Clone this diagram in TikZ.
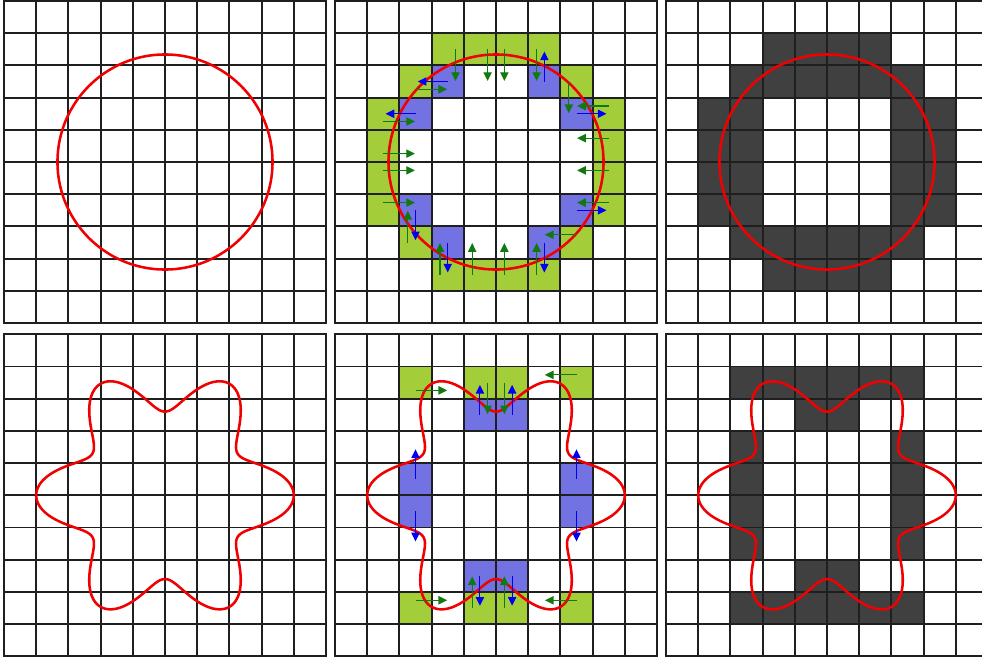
\documentclass[tikz,border=0pt]{standalone}
\usetikzlibrary{arrows.meta}
\definecolor{gcell}{RGB}{164,206,57}
\definecolor{bcell}{RGB}{114,114,226}
\definecolor{dcell}{RGB}{64,64,64}
\definecolor{garr}{RGB}{16,122,16}
\definecolor{barr}{RGB}{0,0,245}
\definecolor{curvered}{RGB}{240,0,0}
\tikzset{
  gridline/.style={draw=black!88, line width=1pt, line cap=rect},
  redcurve/.style={draw=curvered, line width=1.35pt, line join=round},
  garrow/.style={draw=garr, line width=0.6pt, -{Triangle[width=4.4pt,length=4.6pt]}, shorten >=0.3pt},
  barrow/.style={draw=barr, line width=0.6pt, -{Triangle[width=4.4pt,length=4.6pt]}, shorten >=1.2pt},
}
\newcommand{\FillCell}[3]{\fill[#1] (#2,#3) rectangle ++(1,1);}
\newcommand{\GridTen}{\foreach \k in {0,...,10}{\draw[gridline] (\k,0) -- (\k,10); \draw[gridline] (0,\k) -- (10,\k);}}
\newcommand{\CircleCurve}{\draw[redcurve] (5,5) circle[radius=3.34];}
\newcommand{\FlowerCurve}{\draw[redcurve] plot[domain=0:360, samples=361, variable=\t] ({5+(3.3+0.7*cos(6*\t))*cos(\t)},{5+(3.3+0.7*cos(6*\t))*sin(\t)}) -- cycle;}
\newcommand{\GA}[6]{\draw[garrow] ({#1+0.5+(#5)},{#2+0.5+(#6)}) -- ({#3+0.5+(#5)},{#4+0.5+(#6)});}
\newcommand{\BA}[4]{\draw[barrow] ({#1+0.5},{#2+0.5}) -- ({#3+0.5},{#4+0.5});}
\begin{document}
\begin{tikzpicture}[x=0.6cm,y=-0.6cm]
\useasboundingbox (0,0) rectangle (30.497,20.466);
\fill[white] (0,0) rectangle (30.497,20.466);
\clip (0,0) rectangle (30.497,20.466);
% ---------- Panel 1 ----------
\begin{scope}[shift={(0.124,0.031)}]
  \GridTen
  \CircleCurve
\end{scope}
% ---------- Panel 2 ----------
\begin{scope}[shift={(10.404,0.031)}]
  \foreach \c/\r in {3/1,4/1,5/1,6/1,2/2,7/2,1/3,8/3,1/4,8/4,1/5,8/5,1/6,8/6,2/7,7/7,3/8,4/8,5/8,6/8}{\FillCell{gcell}{\c}{\r}}
  \foreach \c/\r in {3/2,6/2,2/3,7/3,2/6,7/6,3/7,6/7}{\FillCell{bcell}{\c}{\r}}
  \GridTen
  \CircleCurve
  % green arrows
  \GA{3}{1}{3}{2}{0.24}{0}
  \GA{4}{1}{4}{2}{0.24}{0}
  \GA{5}{1}{5}{2}{-0.24}{0}
  \GA{6}{1}{6}{2}{-0.24}{0}
  \GA{2}{2}{3}{2}{0}{0.24}
  \GA{1}{3}{2}{3}{0}{0.24}
  \GA{7}{2}{7}{3}{-0.24}{0}
  \GA{8}{3}{7}{3}{0}{-0.24}
  \GA{1}{4}{2}{4}{0}{0.24}
  \GA{8}{4}{7}{4}{0}{-0.24}
  \GA{1}{5}{2}{5}{0}{-0.24}
  \GA{8}{5}{7}{5}{0}{-0.24}
  \GA{1}{6}{2}{6}{0}{-0.24}
  \GA{8}{6}{7}{6}{0}{-0.24}
  \GA{2}{7}{2}{6}{-0.24}{0}
  \GA{7}{7}{6}{7}{0}{-0.24}
  \GA{3}{8}{3}{7}{-0.24}{0}
  \GA{4}{8}{4}{7}{-0.24}{0}
  \GA{5}{8}{5}{7}{-0.24}{0}
  \GA{6}{8}{6}{7}{-0.24}{0}
  % blue arrows
  \BA{6}{2}{6}{1}
  \BA{3}{2}{2}{2}
  \BA{2}{3}{1}{3}
  \BA{7}{3}{8}{3}
  \BA{7}{6}{8}{6}
  \BA{2}{6}{2}{7}
  \BA{3}{7}{3}{8}
  \BA{6}{7}{6}{8}
\end{scope}
% ---------- Panel 3 ----------
\begin{scope}[shift={(20.683,0.031)}]
  \foreach \c in {3,...,6}{\FillCell{dcell}{\c}{1}\FillCell{dcell}{\c}{8}}
  \foreach \c in {2,...,7}{\FillCell{dcell}{\c}{2}\FillCell{dcell}{\c}{7}}
  \foreach \r in {3,...,6}{\foreach \c in {1,2,7,8}{\FillCell{dcell}{\c}{\r}}}
  \GridTen
  \CircleCurve
\end{scope}
% ---------- Panel 4 ----------
\begin{scope}[shift={(0.124,10.382)}]
  \GridTen
  \FlowerCurve
\end{scope}
% ---------- Panel 5 ----------
\begin{scope}[shift={(10.404,10.382)}]
  \foreach \c/\r in {2/1,4/1,5/1,7/1,2/8,4/8,5/8,7/8}{\FillCell{gcell}{\c}{\r}}
  \foreach \c/\r in {4/2,5/2,2/4,2/5,7/4,7/5,4/7,5/7}{\FillCell{bcell}{\c}{\r}}
  \GridTen
  \FlowerCurve
  \GA{2}{1}{3}{1}{0}{0.24}
  \GA{7}{1}{6}{1}{0}{-0.24}
  \GA{4}{1}{4}{2}{0.24}{0}
  \GA{5}{1}{5}{2}{-0.24}{0}
  \GA{4}{8}{4}{7}{-0.24}{0}
  \GA{5}{8}{5}{7}{-0.24}{0}
  \GA{2}{8}{3}{8}{0}{-0.24}
  \GA{7}{8}{6}{8}{0}{-0.24}
  \BA{4}{2}{4}{1}
  \BA{5}{2}{5}{1}
  \BA{2}{4}{2}{3}
  \BA{2}{5}{2}{6}
  \BA{7}{4}{7}{3}
  \BA{7}{5}{7}{6}
  \BA{4}{7}{4}{8}
  \BA{5}{7}{5}{8}
\end{scope}
% ---------- Panel 6 ----------
\begin{scope}[shift={(20.683,10.382)}]
  \foreach \c in {2,...,7}{\FillCell{dcell}{\c}{1}\FillCell{dcell}{\c}{8}}
  \foreach \c in {4,5}{\FillCell{dcell}{\c}{2}\FillCell{dcell}{\c}{7}}
  \foreach \r in {3,...,6}{\foreach \c in {2,7}{\FillCell{dcell}{\c}{\r}}}
  \GridTen
  \FlowerCurve
\end{scope}
\end{tikzpicture}
\end{document}
